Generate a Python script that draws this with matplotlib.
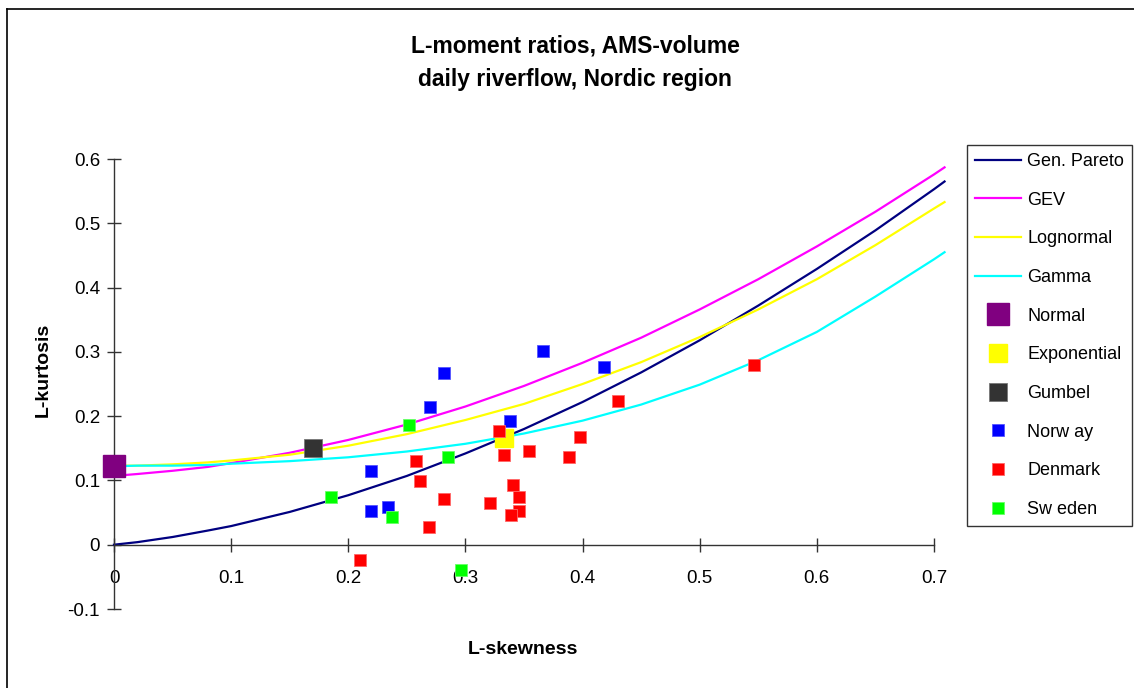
import matplotlib
matplotlib.use('Agg')
import matplotlib.pyplot as plt
from matplotlib.lines import Line2D

plt.rcParams['font.family'] = ['Liberation Sans', 'DejaVu Sans']

# theoretical curves
x_curve = [0, 0.02, 0.05, 0.08, 0.1, 0.15, 0.2, 0.25, 0.3, 0.35, 0.4, 0.45, 0.5, 0.55, 0.6, 0.65, 0.7, 0.709]
gen_pareto = [0, 0.004, 0.012, 0.022, 0.029, 0.051, 0.077, 0.107, 0.142, 0.180, 0.222, 0.268, 0.318, 0.372, 0.429, 0.489, 0.553, 0.565]
gev = [0.107, 0.110, 0.115, 0.121, 0.127, 0.143, 0.163, 0.187, 0.215, 0.247, 0.283, 0.322, 0.366, 0.413, 0.464, 0.518, 0.576, 0.587]
lognormal = [0.123, 0.123, 0.125, 0.128, 0.131, 0.140, 0.154, 0.172, 0.194, 0.219, 0.250, 0.284, 0.323, 0.366, 0.413, 0.466, 0.523, 0.533]
gamma = [0.122, 0.123, 0.123, 0.124, 0.126, 0.130, 0.136, 0.145, 0.157, 0.173, 0.193, 0.218, 0.249, 0.287, 0.331, 0.386, 0.444, 0.455]

# special distributions
normal_pt = (0.0, 0.1226)
exponential_pt = (0.3333, 0.1667)
gumbel_pt = (0.1699, 0.1504)

# observed L-moment ratios
norway_skew = [0.366, 0.282, 0.270, 0.418, 0.338, 0.219, 0.219, 0.234]
norway_kurt = [0.302, 0.267, 0.214, 0.277, 0.193, 0.115, 0.053, 0.059]
denmark_skew = [0.210, 0.258, 0.261, 0.282, 0.269, 0.321, 0.329, 0.333, 0.354, 0.341,
                0.346, 0.346, 0.339, 0.398, 0.388, 0.430, 0.546]
denmark_kurt = [-0.024, 0.131, 0.099, 0.071, 0.028, 0.065, 0.177, 0.140, 0.146, 0.093,
                0.074, 0.053, 0.047, 0.168, 0.136, 0.224, 0.280]
sweden_skew = [0.252, 0.285, 0.237, 0.185, 0.296]
sweden_kurt = [0.186, 0.136, 0.043, 0.074, -0.040]

x_ticks = [0, 0.1, 0.2, 0.3, 0.4, 0.5, 0.6, 0.7]
x_labels = ['0', '0.1', '0.2', '0.3', '0.4', '0.5', '0.6', '0.7']
y_ticks = [-0.1, 0, 0.1, 0.2, 0.3, 0.4, 0.5, 0.6]
y_labels = ['-0.1', '0', '0.1', '0.2', '0.3', '0.4', '0.5', '0.6']

W, H = 1134, 688
fig = plt.figure(figsize=(W / 100, H / 100), dpi=100)
ax = fig.add_axes([114 / W, 1 - 609 / H, (934 - 114) / W, (609 - 159) / H])

lw = 1.6
ax.plot(x_curve, gen_pareto, color='#000080', lw=lw, label='Gen. Pareto', clip_on=False, zorder=2)
ax.plot(x_curve, gev, color='#FF00FF', lw=lw, label='GEV', clip_on=False, zorder=2)
ax.plot(x_curve, lognormal, color='#FFFF00', lw=lw, label='Lognormal', clip_on=False, zorder=2)
ax.plot(x_curve, gamma, color='#00FFFF', lw=lw, label='Gamma', clip_on=False, zorder=2)

ms = 9.2
ax.plot(*normal_pt, 's', color='#800080', ms=15.5, label='Normal', clip_on=False, zorder=3)
ax.plot(*exponential_pt, 's', color='#FFFF00', ms=13.5, label='Exponential', clip_on=False, zorder=3)
ax.plot(*gumbel_pt, 's', color='#333333', mec='#777777', mew=0.6, ms=13.5, label='Gumbel', clip_on=False, zorder=3)
ax.plot(norway_skew, norway_kurt, 's', color='#0000FF', mec='#5555FF', mew=0.6, ms=ms, ls='none', label='Norw ay', clip_on=False, zorder=4)
ax.plot(denmark_skew, denmark_kurt, 's', color='#FF0000', mec='#FF6666', mew=0.6, ms=ms, ls='none', label='Denmark', clip_on=False, zorder=4)
ax.plot(sweden_skew, sweden_kurt, 's', color='#00FF00', mec='#66FF66', mew=0.6, ms=ms, ls='none', label='Sw eden', clip_on=False, zorder=4)

ax.set_xlim(0, 0.7)
ax.set_ylim(-0.1, 0.6)
ax.set_xticks(x_ticks, x_labels)
ax.set_yticks(y_ticks, y_labels)
ax.spines['top'].set_visible(False)
ax.spines['right'].set_visible(False)
ax.spines['bottom'].set_position(('data', 0))
for s in ('left', 'bottom'):
    ax.spines[s].set_color('#333333')
    ax.spines[s].set_linewidth(1.0)
ax.tick_params(axis='x', direction='inout', length=10, width=1, color='#333333', pad=13, labelsize=13.5)
ax.tick_params(axis='y', direction='inout', length=10, width=1, color='#333333', pad=5, labelsize=13.5)
ax.patch.set_alpha(0)

fig.text(575 / W, 1 - 63 / H, 'L-moment ratios, AMS-volume\ndaily riverflow, Nordic region',
         ha='center', va='center', fontsize=16.5, fontweight='bold', linespacing=1.6)
fig.text(43 / W, 1 - 370 / H, 'L-kurtosis', ha='center', va='center', rotation=90,
         fontsize=14, fontweight='bold')
fig.text(523 / W, 1 - 649 / H, 'L-skewness', ha='center', va='center',
         fontsize=14, fontweight='bold')

leg = ax.legend(loc='upper left', bbox_to_anchor=(967 / W, 1 - 145 / H), bbox_transform=fig.transFigure,
                borderaxespad=0, fontsize=13, frameon=True, fancybox=False, edgecolor='black',
                handlelength=2.55, handletextpad=0.35, labelspacing=1.2, borderpad=0.45)
leg.get_frame().set_linewidth(1.0)

# outer chart border
fig.add_artist(Line2D([7 / W, 7 / W], [0, 1 - 9 / H], transform=fig.transFigure, color='black', lw=1.2))
fig.add_artist(Line2D([7 / W, 1], [1 - 9 / H, 1 - 9 / H], transform=fig.transFigure, color='black', lw=1.2))

plt.savefig('out.png', dpi=100)
plt.close()
